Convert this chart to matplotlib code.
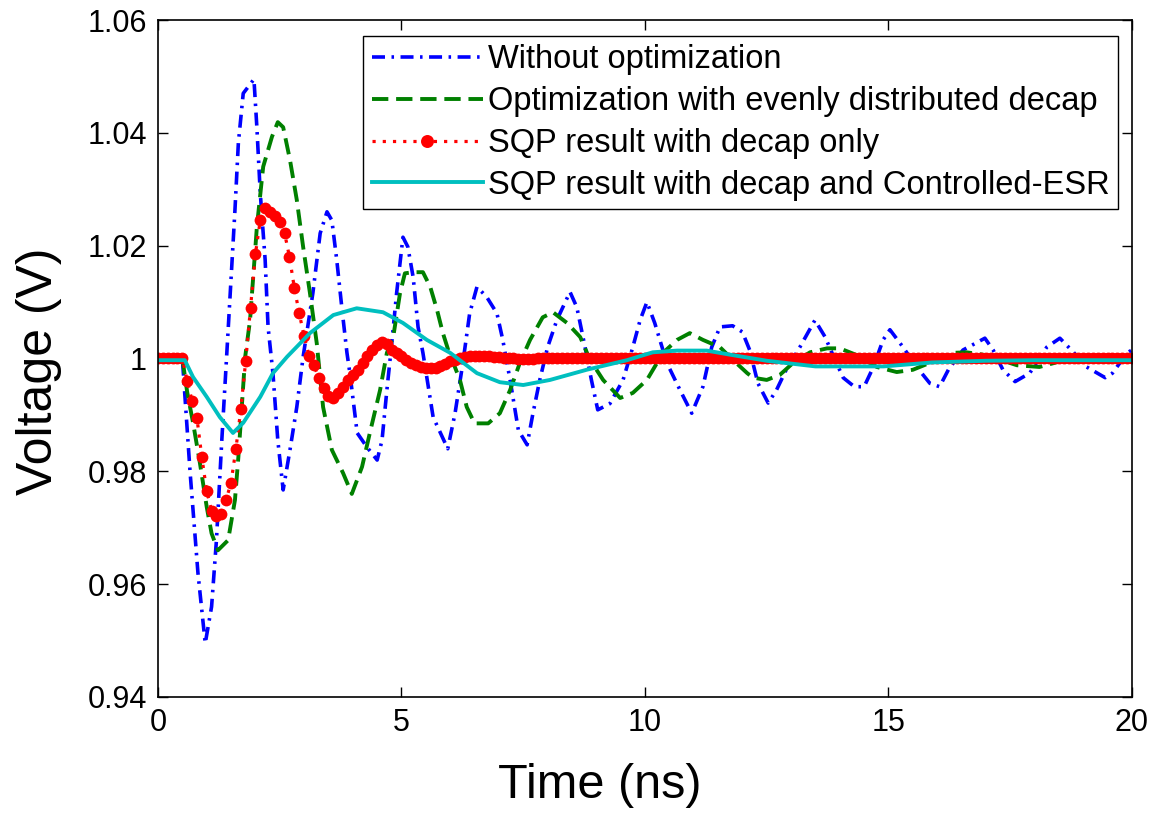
import numpy as np
import matplotlib
matplotlib.use("Agg")
import matplotlib.pyplot as plt
from matplotlib.ticker import FormatStrFormatter

plt.rcParams['font.family'] = ['Liberation Sans', 'DejaVu Sans']

# Without optimization (blue dash-dot)
blue_t = [0, 0.5, 0.66, 0.82, 0.97, 1.1, 1.2, 1.31, 1.42, 1.58,
          1.65, 1.75, 1.97, 2.03, 2.1, 2.2, 2.26, 2.36, 2.46, 2.57,
          2.71, 2.85, 2.98, 3.18, 3.33, 3.47, 3.57, 3.67, 3.78, 3.88,
          3.94, 4.09, 4.29, 4.5, 4.6, 4.7, 4.8, 4.9, 5.03, 5.13,
          5.24, 5.34, 5.44, 5.65, 5.95, 6.1, 6.26, 6.4, 6.55, 6.75,
          6.96, 7.08, 7.23, 7.4, 7.58, 7.7, 7.84, 8.0, 8.19, 8.46,
          8.6, 8.77, 8.9, 9.03, 9.28, 9.55, 9.75, 9.9, 10.04, 10.2,
          10.45, 10.72, 10.96, 11.19, 11.37, 11.54, 11.8, 12.0, 12.15, 12.32,
          12.53, 12.7, 12.9, 13.18, 13.49, 13.7, 13.9, 14.07, 14.3, 14.5,
          14.69, 14.89, 15.03, 15.3, 15.58, 15.85, 16.05, 16.23, 16.53, 16.98,
          17.15, 17.35, 17.6, 17.9, 18.25, 18.52, 18.8, 19.07, 19.45, 19.6,
          19.9, 20.0]
blue_v = [1.0, 1.0, 0.9797, 0.962, 0.9495, 0.956, 0.9678, 0.9855, 1.002, 1.0263,
          1.0382, 1.047, 1.0495, 1.041, 1.0293, 1.0175, 1.0056, 0.9974, 0.9855, 0.9767,
          0.9838, 0.9914, 1.0003, 1.0116, 1.0222, 1.026, 1.0245, 1.0175, 1.0086, 1.001,
          0.9974, 0.9868, 0.9843, 0.982, 0.9855, 0.9944, 1.0027, 1.0116, 1.0215, 1.0198,
          1.0144, 1.0056, 1.001, 0.9896, 0.984, 0.9903, 0.9992, 1.008, 1.0127, 1.0109,
          1.008, 1.0033, 0.9962, 0.9873, 0.9847, 0.9903, 0.9962, 1.002, 1.0068, 1.0118,
          1.0091, 1.002, 0.9962, 0.9909, 0.992, 0.9962, 1.002, 1.0068, 1.01, 1.0063,
          0.9992, 0.9944, 0.9903, 0.995, 1.002, 1.0056, 1.0058, 1.0047, 1.0015, 0.9956,
          0.9921, 0.9944, 0.998, 1.002, 1.0068, 1.0038, 0.9998, 0.9966, 0.995, 0.995,
          0.9985, 1.0033, 1.0051, 1.002, 0.9985, 0.9956, 0.995, 0.998, 1.0015, 1.0036,
          1.0015, 0.998, 0.9959, 0.9974, 1.002, 1.0036, 1.0011, 0.9985, 0.9966, 0.9974,
          1.001, 1.0015]

# Optimization with evenly distributed decap (green dashed)
green_t = [0, 0.5, 0.6, 0.72, 0.86, 1.0, 1.1, 1.23, 1.44, 1.58,
           1.65, 1.72, 1.79, 1.89, 2.03, 2.16, 2.34, 2.46, 2.57, 2.71,
           2.85, 2.98, 3.12, 3.26, 3.39, 3.57, 3.8, 3.98, 4.19, 4.35,
           4.56, 4.7, 4.83, 4.97, 5.07, 5.24, 5.44, 5.59, 5.73, 5.85,
           5.96, 6.2, 6.34, 6.5, 6.78, 7.02, 7.23, 7.43, 7.64, 7.9,
           8.11, 8.4, 8.67, 8.87, 9.14, 9.49, 9.75, 10.04, 10.37, 10.66,
           10.92, 11.19, 11.54, 11.8, 12.1, 12.22, 12.5, 12.77, 13.04, 13.39,
           13.74, 14.0, 14.35, 14.76, 15.17, 15.5, 15.9, 16.32, 16.6, 17.0,
           17.64, 18.1, 18.66, 19.2, 19.75, 20.0]
green_v = [1.0, 1.0, 0.994, 0.9886, 0.9815, 0.9737, 0.969, 0.966, 0.9678, 0.9749,
           0.9825, 0.9914, 1.0003, 1.0068, 1.0233, 1.034, 1.0393, 1.0419, 1.041, 1.0352,
           1.0281, 1.0198, 1.0116, 1.0027, 0.9914, 0.9838, 0.9797, 0.976, 0.9808, 0.9868,
           0.9944, 1.001, 1.0038, 1.0116, 1.0151, 1.0153, 1.0153, 1.0127, 1.0086, 1.0045,
           1.0015, 0.9962, 0.9914, 0.9885, 0.9885, 0.9903, 0.9944, 0.9992, 1.0033, 1.0073,
           1.0082, 1.0063, 1.0038, 0.9998, 0.9962, 0.993, 0.9939, 0.9962, 1.001, 1.0033,
           1.0045, 1.0033, 1.002, 0.9998, 0.9974, 0.9966, 0.9962, 0.9971, 0.9992, 1.0011,
           1.0018, 1.0018, 1.0006, 0.9985, 0.9976, 0.998, 0.9994, 1.001, 1.0011, 1.0006,
           0.9988, 0.9985, 0.9998, 1.0004, 1.0004, 1.0005]

# SQP result with decap only (red, sampled every 0.1 ns)
red_t = np.linspace(0, 20, 201)
red_v = [1.0, 1.0, 1.0, 1.0, 1.0, 1.0, 0.996, 0.9925, 0.9894, 0.9825,
         0.9765, 0.973, 0.972, 0.9725, 0.975, 0.978, 0.984, 0.991, 0.9995, 1.009,
         1.0185, 1.0245, 1.0267, 1.026, 1.0252, 1.0242, 1.0222, 1.018, 1.0125, 1.008,
         1.004, 1.0005, 0.9988, 0.9966, 0.9948, 0.9933, 0.993, 0.9938, 0.995, 0.9962,
         0.997, 0.998, 0.9992, 1.0005, 1.0015, 1.0024, 1.0029, 1.0025, 1.0015, 1.001,
         1.0004, 0.9998, 0.9992, 0.9988, 0.9985, 0.9984, 0.9983, 0.9983, 0.9986, 0.999,
         0.9995, 0.9998, 1.0, 1.0003, 1.0004, 1.0005, 1.0005, 1.0005, 1.0004, 1.0003,
         1.0002, 1.0001, 1.0, 1.0, 0.9999, 0.9999, 0.9999, 0.9999, 1.0, 1.0,
         1.0, 1.0, 1.0, 1.0, 1.0, 1.0, 1.0, 1.0, 1.0, 1.0,
         1.0, 1.0, 1.0, 1.0, 1.0, 1.0, 1.0, 1.0, 1.0, 1.0,
         1.0, 1.0, 1.0, 1.0, 1.0, 1.0, 1.0, 1.0, 1.0, 1.0,
         1.0, 1.0, 1.0, 1.0, 1.0, 1.0, 1.0, 1.0, 1.0, 1.0,
         1.0, 1.0, 1.0, 1.0, 1.0, 1.0, 1.0, 1.0, 1.0, 1.0,
         1.0, 1.0, 1.0, 1.0, 1.0, 1.0, 1.0, 1.0, 1.0, 1.0,
         1.0, 1.0, 1.0, 1.0, 1.0, 1.0, 1.0, 1.0, 1.0, 1.0,
         1.0, 1.0, 1.0, 1.0, 1.0, 1.0, 1.0, 1.0, 1.0, 1.0,
         1.0, 1.0, 1.0, 1.0, 1.0, 1.0, 1.0, 1.0, 1.0, 1.0,
         1.0, 1.0, 1.0, 1.0, 1.0, 1.0, 1.0, 1.0, 1.0, 1.0,
         1.0, 1.0, 1.0, 1.0, 1.0, 1.0, 1.0, 1.0, 1.0, 1.0,
         1.0, 1.0, 1.0, 1.0, 1.0, 1.0, 1.0, 1.0, 1.0, 1.0,
         1.0]

# SQP result with decap and Controlled-ESR (cyan solid)
cyan_t = [0, 0.55, 0.72, 1.0, 1.27, 1.54, 1.75, 2.1, 2.36, 2.65,
          2.92, 3.12, 3.6, 4.08, 4.62, 5.03, 5.52, 6.0, 6.55, 7.02,
          7.5, 8.05, 8.8, 9.63, 10.16, 10.66, 11.27, 11.8, 12.5, 13.5,
          14.9, 15.9, 17.0, 18.0, 20.0]
cyan_v = [0.9997, 0.9997, 0.9967, 0.9932, 0.9896, 0.9868, 0.9886, 0.9932, 0.9974, 1.0003,
          1.0027, 1.0045, 1.0077, 1.0089, 1.0082, 1.0063, 1.0033, 1.001, 0.9974, 0.9958,
          0.9953, 0.9962, 0.998, 0.9997, 1.0011, 1.0014, 1.0014, 1.0006, 0.9996, 0.9986,
          0.9986, 0.9993, 0.9996, 0.9997, 0.9997]

labels = ['Without optimization',
          'Optimization with evenly distributed decap',
          'SQP result with decap only',
          'SQP result with decap and Controlled-ESR']

fig = plt.figure(figsize=(11.5, 8.17), dpi=100)
ax = fig.add_axes([0.1374, 0.1469, 0.8469, 0.8286])

ax.plot(blue_t, blue_v, color=(0, 0, 1), lw=2.6, dashes=(3.6, 1.8, 0.7, 1.8),
        label=labels[0])
ax.plot(green_t, green_v, color=(0, 0.5, 0), lw=2.8, dashes=(4.2, 2),
        label=labels[1])
ax.plot(red_t, red_v, color=(1, 0, 0), lw=2.3, dashes=(1, 2.2), marker='o',
        markersize=8.5, markeredgewidth=0, label=labels[2])
ax.plot(cyan_t, cyan_v, color=(0, 0.75, 0.75), lw=2.8, label=labels[3])

ax.set_xlim(0, 20)
ax.set_ylim(0.94, 1.06)
ax.set_xticks([0, 5, 10, 15, 20])
ax.set_yticks([0.94, 0.96, 0.98, 1.0, 1.02, 1.04, 1.06])
ax.yaxis.set_major_formatter(FormatStrFormatter('%g'))
ax.tick_params(direction='in', length=7, width=1, labelsize=22, pad=8,
               top=True, right=True)
for s in ax.spines.values():
    s.set_linewidth(1.2)

ax.set_xlabel('Time (ns)', fontsize=35)
ax.set_ylabel('Voltage (V)', fontsize=36)
ax.xaxis.set_label_coords(0.454, -0.0975)
ax.yaxis.set_label_coords(-0.0986, 0.4815)

leg = ax.legend(loc='upper right', bbox_to_anchor=(0.9856, 0.9764),
                borderaxespad=0, fontsize=23.5, handlelength=3.4,
                handletextpad=0.15, labelspacing=0.33, borderpad=0.26,
                numpoints=1, markerscale=1.1, fancybox=False, framealpha=1)
leg.get_frame().set_edgecolor('black')
leg.get_frame().set_linewidth(1.0)

fig.savefig('out.png', dpi=100)
